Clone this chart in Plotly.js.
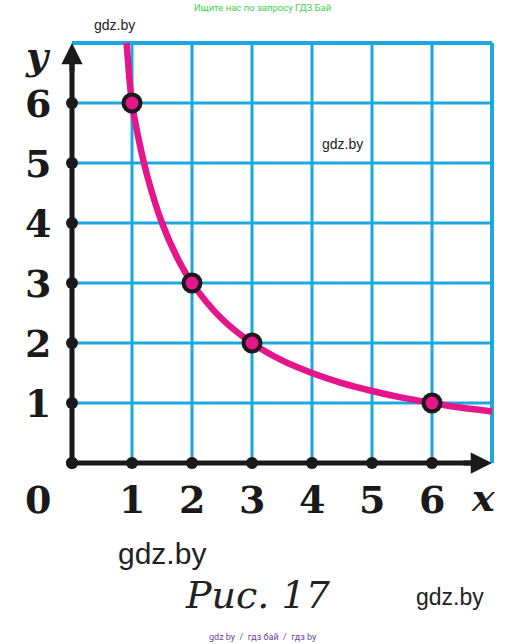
<!DOCTYPE html>
<html>
<head>
<meta charset="utf-8">
<script src="https://cdn.plot.ly/plotly-3.0.1.min.js"></script>
<style>html,body{margin:0;padding:0;background:#fff;}#chart{width:525px;height:644px;}</style>
</head>
<body>
<div id="chart"></div>
<script>
// ---- data ----
const xTickVals = [1, 2, 3, 4, 5, 6];
const xTickText = ['1', '2', '3', '4', '5', '6'];
const yTickVals = [1, 2, 3, 4, 5, 6];
const yTickText = ['1', '2', '3', '4', '5', '6'];
const gridMax = 7;
const gridLines = [1, 2, 3, 4, 5, 6, 7];
const axisDotsX = [0, 1, 2, 3, 4, 5, 6];
const axisDotsY = [0, 1, 2, 3, 4, 5, 6];
// curve y = 6/x
const curveX = [0.91, 1, 1.1, 1.25, 1.5, 1.75, 2, 2.5, 3, 3.5, 4, 4.5, 5, 5.5, 6, 6.5, 7];
const curveY = [7, 6, 5.45, 4.8, 4, 3.43, 3, 2.4, 2, 1.71, 1.5, 1.33, 1.2, 1.09, 1, 0.92, 0.86];
const pointsX = [1, 2, 3, 6];
const pointsY = [6, 3, 2, 1];

const cyan = '#1ba8e0';
const magenta = '#e5168c';

// grid line traces
const traces = [];
gridLines.forEach(v => {
  const edge = v === gridMax;
  traces.push({x: [v, v], y: [0, gridMax], mode: 'lines', line: {color: cyan, width: edge ? 4 : 3}, hoverinfo: 'skip'});
  traces.push({x: [0, gridMax], y: [v, v], mode: 'lines', line: {color: cyan, width: edge ? 4 : 3}, hoverinfo: 'skip'});
});
// axis lines
traces.push({x: [0, 0], y: [0, gridMax - 0.3], mode: 'lines', line: {color: '#1a1a1a', width: 5}, hoverinfo: 'skip'});
traces.push({x: [0, gridMax - 0.3], y: [0, 0], mode: 'lines', line: {color: '#1a1a1a', width: 5}, hoverinfo: 'skip'});
// axis dots
traces.push({x: axisDotsX, y: axisDotsX.map(() => 0), mode: 'markers', marker: {color: '#1a1a1a', size: 12}, hoverinfo: 'skip'});
traces.push({x: axisDotsY.map(() => 0), y: axisDotsY, mode: 'markers', marker: {color: '#1a1a1a', size: 12}, hoverinfo: 'skip'});
// curve
traces.push({x: curveX, y: curveY, mode: 'lines', line: {color: magenta, width: 6.5, shape: 'spline'}, hoverinfo: 'skip'});
// points
traces.push({x: pointsX, y: pointsY, mode: 'markers', marker: {color: magenta, size: 17, line: {color: '#1a1a1a', width: 4}}, hoverinfo: 'skip'});

const digitFont = {family: 'DejaVu Serif', size: 38, color: '#1a1a1a', weight: 'bold'};
const annotations = [];
xTickVals.forEach((v, i) => annotations.push({x: v, y: -0.6, xref: 'x', yref: 'y', text: '<b>' + xTickText[i] + '</b>', showarrow: false, font: digitFont}));
yTickVals.forEach((v, i) => annotations.push({x: -0.57, y: v, xref: 'x', yref: 'y', text: '<b>' + yTickText[i] + '</b>', showarrow: false, font: digitFont}));
annotations.push({x: -0.57, y: -0.6, xref: 'x', yref: 'y', text: '<b>0</b>', showarrow: false, font: digitFont});
annotations.push({x: -0.57, y: 6.8, xref: 'x', yref: 'y', text: '<b><i>y</i></b>', showarrow: false, font: digitFont});
annotations.push({x: 6.85, y: -0.58, xref: 'x', yref: 'y', text: '<b><i>x</i></b>', showarrow: false, font: digitFont});
// arrow heads
annotations.push({x: 0, y: gridMax, ax: 0, ay: gridMax - 0.5, xref: 'x', yref: 'y', axref: 'x', ayref: 'y', text: '', showarrow: true, arrowhead: 2, arrowsize: 0.85, arrowwidth: 5, arrowcolor: '#1a1a1a'});
annotations.push({x: gridMax, y: 0, ax: gridMax - 0.5, ay: 0, xref: 'x', yref: 'y', axref: 'x', ayref: 'y', text: '', showarrow: true, arrowhead: 2, arrowsize: 0.85, arrowwidth: 5, arrowcolor: '#1a1a1a'});
// texts
annotations.push({x: 0.7, y: 7.3, xref: 'x', yref: 'y', text: 'gdz.by', showarrow: false, font: {family: 'Liberation Sans', size: 14, color: '#222'}});
annotations.push({x: 4.5, y: 5.32, xref: 'x', yref: 'y', text: 'gdz.by', showarrow: false, font: {family: 'Liberation Sans', size: 14, color: '#222'}});
annotations.push({x: 1.5, y: -1.5, xref: 'x', yref: 'y', text: 'gdz.by', showarrow: false, font: {family: 'Liberation Sans', size: 30, color: '#222'}});
annotations.push({x: 6.3, y: -2.24, xref: 'x', yref: 'y', text: 'gdz.by', showarrow: false, font: {family: 'Liberation Sans', size: 23, color: '#222'}});
annotations.push({x: 3.1, y: -2.2, xref: 'x', yref: 'y', text: '<i>Рис. 17</i>', showarrow: false, font: {family: 'DejaVu Serif', size: 38, color: '#222'}});
annotations.push({x: 0.5, y: 0.989, xref: 'paper', yref: 'paper', yanchor: 'middle', text: 'Ищите нас по запросу ГДЗ Бай', showarrow: false, font: {family: 'Roboto', size: 9.5, color: '#3dd24f'}});
annotations.push({x: 0.5, y: 0.011, xref: 'paper', yref: 'paper', yanchor: 'middle', text: 'gdz by  /  гдз бай  /  гдз by', showarrow: false, font: {family: 'Roboto', size: 9, color: '#6b3fa0'}});

const layout = {
  width: 525, height: 644,
  margin: {l: 0, r: 0, t: 0, b: 0},
  paper_bgcolor: '#ffffff', plot_bgcolor: '#ffffff',
  showlegend: false,
  xaxis: {range: [-1.2, 7.55], visible: false, fixedrange: true},
  yaxis: {range: [-3.0167, 7.7167], visible: false, fixedrange: true},
  annotations: annotations
};
Plotly.newPlot('chart', traces, layout, {staticPlot: true, displayModeBar: false});
</script>
</body>
</html>
